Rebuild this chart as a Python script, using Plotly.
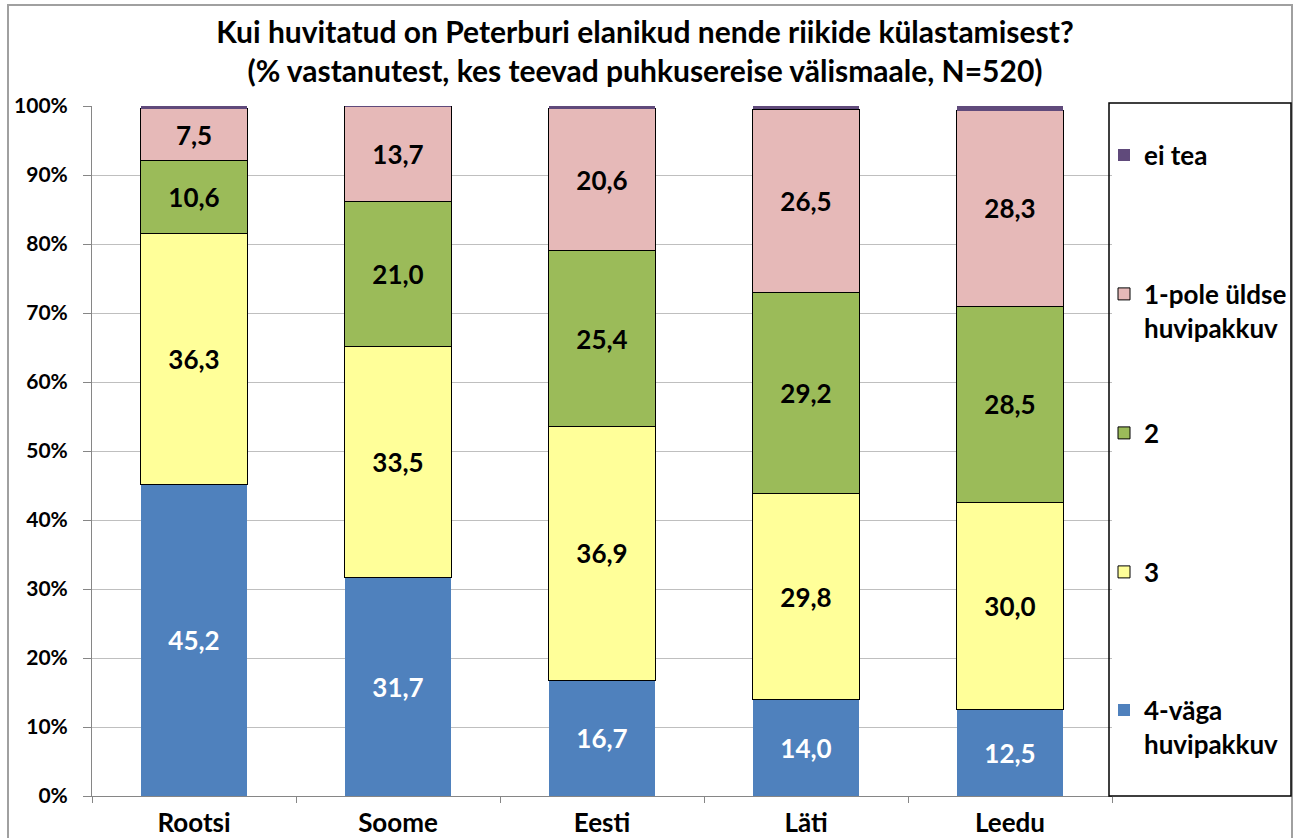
import plotly.graph_objects as go

countries = ["Rootsi", "Soome", "Eesti", "Läti", "Leedu"]
series_names = ["4-väga<br>huvipakkuv", "3", "2", "1-pole üldse<br>huvipakkuv", "ei tea"]
v4 = [45.2, 31.7, 16.7, 14.0, 12.5]
v3 = [36.3, 33.5, 36.9, 29.8, 30.0]
v2 = [10.6, 21.0, 25.4, 29.2, 28.5]
v1 = [7.5, 13.7, 20.6, 26.5, 28.3]
v0 = [0.4, 0.1, 0.4, 0.5, 0.7]
y_ticks = [0, 10, 20, 30, 40, 50, 60, 70, 80, 90, 100]
y_tick_labels = [f"{v}%" for v in y_ticks]

values = [v4, v3, v2, v1, v0]
colors = ["#4F81BD", "#FFFF99", "#9BBB59", "#E6B9B8", "#604A7B"]
outline = [0, 1, 1, 1, 0]
text_colors = ["white", "black", "black", "black", "black"]
legend_ids = ["legend5", "legend4", "legend3", "legend2", "legend"]

FONT = "Lato"
W, H = 1293, 838
L, R, T, B = 92, 1112, 106, 796

def px(x):
    return (x - L) / (R - L)

def py(y):
    return (B - y) / (B - T)

fig = go.Figure()
for i in range(5):
    fig.add_trace(go.Bar(
        x=countries, y=values[i], name=series_names[i],
        marker=dict(color=colors[i], line=dict(color="black", width=outline[i])),
        texttemplate="%{y:.1f}" if i < 4 else "",
        textposition="inside" if i < 4 else "none",
        insidetextanchor="middle", textangle=0, constraintext="none",
        textfont=dict(family=FONT, size=26, color=text_colors[i], weight="bold"),
        legend=legend_ids[i],
        hoverinfo="skip",
    ))

legend_y = {"legend": 155, "legend2": 311, "legend3": 433, "legend4": 572, "legend5": 727}
legend_layout = {}
for lid, yy in legend_y.items():
    legend_layout[lid] = dict(
        x=px(1104), y=py(yy), xanchor="left", yanchor="middle",
        bgcolor="rgba(0,0,0,0)", borderwidth=0, valign="top",
        font=dict(family=FONT, size=26, color="black", weight="bold"),
    )

fig.update_layout(
    width=W, height=H,
    margin=dict(l=L, r=W - R, t=T, b=H - B, pad=0, autoexpand=False),
    paper_bgcolor="white", plot_bgcolor="white",
    barmode="stack", bargap=0.48,
    separators=", ",
    showlegend=True,
    title=dict(
        text="Kui huvitatud on Peterburi elanikud nende riikide külastamisest?<br>(% vastanutest, kes teevad puhkusereise välismaale, N=520)",
        x=645 / W, xref="container", xanchor="center",
        y=1 - 43 / H, yanchor="middle",
        font=dict(family=FONT, size=30, color="black", weight="bold"),
    ),
    xaxis=dict(
        type="category", tickson="boundaries", ticks="outside", ticklen=6,
        tickcolor="#868686", showline=True, linecolor="#868686", linewidth=1,
        showgrid=False, ticklabelstandoff=4, automargin=False,
        tickfont=dict(family=FONT, size=26, color="black", weight="bold"),
    ),
    yaxis=dict(
        range=[0, 100], tickmode="array", tickvals=y_ticks, ticktext=y_tick_labels,
        ticks="outside", ticklen=8, ticklabelstandoff=11, automargin=False,
        tickcolor="#868686", showline=True, linecolor="#868686", linewidth=1,
        showgrid=True, gridcolor="#BFBFBF", gridwidth=1, zeroline=False,
        tickfont=dict(family=FONT, size=21, color="black", weight="bold"),
    ),
    shapes=[
        dict(type="rect", xref="paper", yref="paper",
             x0=px(1109), x1=px(1291), y0=py(796), y1=py(103),
             line=dict(color="black", width=1.5), fillcolor="rgba(0,0,0,0)", layer="above"),
        dict(type="rect", xref="paper", yref="paper",
             x0=px(8), x1=px(1292), y0=py(845), y1=py(5),
             line=dict(color="#A0A0A0", width=2), fillcolor="rgba(0,0,0,0)", layer="below"),
    ],
    **legend_layout,
)

fig.write_html(
    "out.html",
    config={"displayModeBar": False},
    post_script="document.body.style.margin='0';document.body.style.overflow='hidden';",
)
